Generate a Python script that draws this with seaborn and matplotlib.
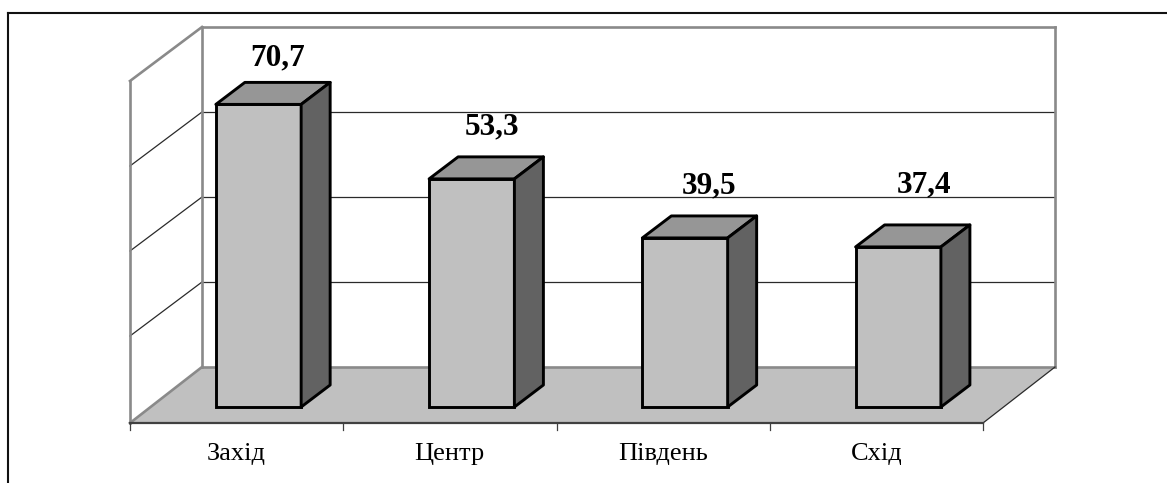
import numpy as np
import matplotlib
matplotlib.use('Agg')
import matplotlib.pyplot as plt
from matplotlib.patches import Polygon
import seaborn as sns

# podaci
regions = ['Захід', 'Центр', 'Південь', 'Схід']
values = [70.7, 53.3, 39.5, 37.4]
value_labels = ['70,7', '53,3', '39,5', '37,4']
grid_levels = [0, 20, 40, 60, 80]

W, H = 1167, 483
STEP = 213.25      # px between categories
UNIT = 4.28        # px per value unit on the bar plane
CENTER0 = 258.5    # px of first bar centre
BASE = 407         # px of the bars' foot
DEPTH_X, DEPTH_Y = 29, 22
WALL = '#8a8a8a'
GRID = '#2a2a2a'

# where each value label sits relative to the top of its bar, in px
label_shift = [(19.5, 46), (20, 52), (24, 52), (26, 62)]

sns.set_theme(style='white')
plt.rcParams['font.family'] = ['Liberation Serif', 'DejaVu Serif']

fig = plt.figure(figsize=(W / 100, H / 100), dpi=100)
left = CENTER0 - STEP / 2
ax = fig.add_axes([left / W, (H - BASE) / H, 4 * STEP / W, (BASE - 27) / H])
ax.patch.set_alpha(0)


def pt(x_px, y_px):
    # picture pixels to data coordinates of the bar plane
    return (x_px - CENTER0) / STEP, (BASE - y_px) / UNIT


def line(x0, y0, x1, y1, color=WALL, lw=1.9, z=1):
    a, b = pt(x0, y0), pt(x1, y1)
    ax.plot([a[0], b[0]], [a[1], b[1]], color=color, lw=lw, zorder=z,
            clip_on=False, solid_capstyle='projecting')


# front faces
sns.barplot(x=regions, y=values, color='#c0c0c0', saturation=1, width=0.4,
            edgecolor='black', linewidth=2.1, zorder=4, ax=ax)
ax.set_xlim(-0.5, 3.5)
ax.set_ylim(0, (BASE - 27) / UNIT)
ax.set_xlabel('')
ax.set_ylabel('')
sns.despine(ax=ax, left=True, bottom=True, top=True, right=True)
ax.set_yticks([])
ax.grid(False)
bars = list(ax.patches)
for bar in bars:
    bar.set_clip_on(False)

# tick labels sit under the floor's front edge, not under the bars
ax.set_xticks(np.arange(len(regions)) - 22 / STEP, regions)
ax.tick_params(axis='x', length=0, pad=26, labelsize=19, labelcolor='black')

# outer frame of the document
line(8, 13, 8, H + 5, color='#111111', lw=1.5)
line(8, 13, W + 5, 13, color='#111111', lw=1.5)

# floor
floor = [pt(130, 423), pt(202, 367), pt(1055, 367), pt(983, 423)]
ax.add_patch(Polygon(floor, closed=True, fc='#c0c0c0', ec='none', zorder=0.5, clip_on=False))

# walls and gridlines
px_per_level = 85 / 20
for lev in grid_levels[1:-1]:
    yb = 367 - lev * px_per_level
    line(202, yb, 1055, yb, color=GRID, lw=0.9)
    line(130, yb + 54, 202, yb, color=GRID, lw=0.9)
line(202, 27, 1055, 27)
line(130, 81, 202, 27)
line(130, 81, 130, 423)
line(202, 27, 202, 367)
line(1055, 27, 1055, 367)
line(202, 367, 1055, 367)
line(130, 423, 202, 367)
line(983, 423, 1055, 367, color=GRID, lw=0.9)

# floor front edge with its ticks
line(130, 423, 983, 423, color='#404040', lw=1.6, z=2)
for i in range(len(regions) + 1):
    tx = 130 + i * STEP
    line(tx, 423, tx, 430, color='#404040', lw=0.9, z=2)

# top and side faces from the seaborn bars
dx = DEPTH_X / STEP
dy = DEPTH_Y / UNIT
for bar, lab, val, shift in zip(bars, value_labels, values, label_shift):
    x0 = bar.get_x()
    x1 = x0 + bar.get_width()
    h = bar.get_height()
    top = [(x0, h), (x0 + dx, h + dy), (x1 + dx, h + dy), (x1, h)]
    side = [(x1, 0), (x1 + dx, dy), (x1 + dx, h + dy), (x1, h)]
    ax.add_patch(Polygon(top, closed=True, fc='#969696', ec='black', lw=2.1,
                         joinstyle='round', zorder=4, clip_on=False))
    ax.add_patch(Polygon(side, closed=True, fc='#626262', ec='black', lw=2.1,
                         joinstyle='round', zorder=4, clip_on=False))
    ax.annotate(lab, xy=(x0 + bar.get_width() / 2, val), xytext=shift,
                textcoords='offset pixels', ha='center', va='center',
                fontsize=22.5, fontweight='bold', color='black', zorder=6,
                annotation_clip=False)

fig.savefig('out.png', dpi=100, facecolor='white')
